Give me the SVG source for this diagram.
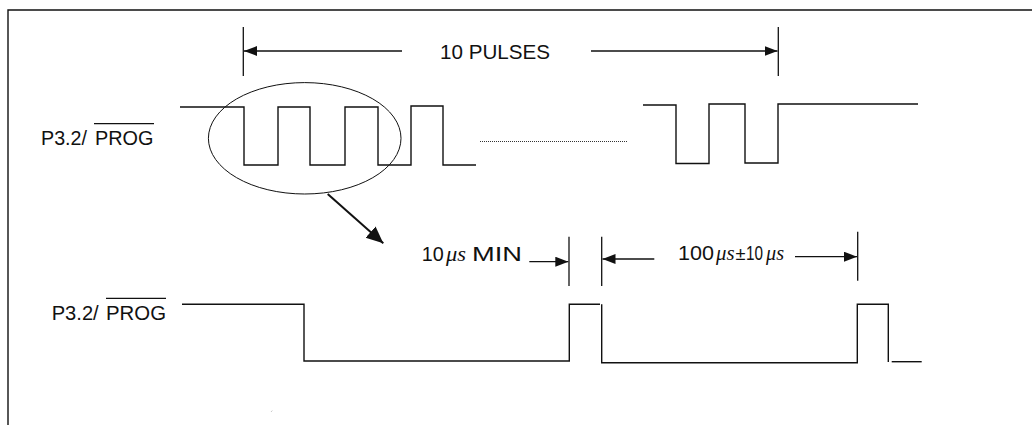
<svg xmlns="http://www.w3.org/2000/svg" width="1032" height="425" viewBox="0 0 1032 425">
<style>
.w{fill:none;stroke:#111;stroke-width:1.4;stroke-linejoin:miter}
.d{fill:none;stroke:#111;stroke-width:1.3}
.t{font-family:"Liberation Sans",Arial,sans-serif;fill:#111}
.u{font-family:"Liberation Serif","Times New Roman",serif;font-style:italic;fill:#111}
</style>
<defs>
<marker id="ah" markerUnits="userSpaceOnUse" markerWidth="14" markerHeight="11" refX="13" refY="5" orient="auto">
<path d="M0,0 L13,5 L0,10 z" fill="#111"/>
</marker>
<marker id="ah2" markerUnits="userSpaceOnUse" markerWidth="18" markerHeight="16" refX="17" refY="7.5" orient="auto">
<path d="M0,0 L17,7.5 L0,15 z" fill="#111"/>
</marker>
</defs>
<path d="M8,425 V10 H1032" fill="none" stroke="#111" stroke-width="1.4"/>

<g id="label-top">
<text class="t" x="41" y="144.5" font-size="19.5" textLength="46" lengthAdjust="spacingAndGlyphs">P3.2/</text>
<text class="t" x="95" y="144.5" font-size="19.5" textLength="58.5" lengthAdjust="spacingAndGlyphs">PROG</text>
<line x1="94" y1="123.7" x2="154" y2="123.7" stroke="#111" stroke-width="1.2"/>
</g>

<g id="label-bottom">
<text class="t" x="51.7" y="319.5" font-size="19.5" textLength="47" lengthAdjust="spacingAndGlyphs">P3.2/</text>
<text class="t" x="106" y="319.5" font-size="19.5" textLength="60" lengthAdjust="spacingAndGlyphs">PROG</text>
<line x1="106" y1="298.3" x2="166" y2="298.3" stroke="#111" stroke-width="1.2"/>
</g>

<g id="signal-top">
<path class="w" d="M180,107 H244 V165 H278 V107 H310 V165 H345 V107 H378 V165 H411 V106 H443 V165 H476"/>
<line x1="480" y1="141.5" x2="628" y2="141.5" stroke="#333" stroke-width="1" stroke-dasharray="1,1"/>
<path class="w" d="M643,105 H676 V163.5 H709 V104 H745 V163 H778 V104 H918"/>
</g>

<g id="signal-bottom">
<path class="w" d="M182,304.3 H304 V361 H569.3 V304.3 H600"/>
<path class="w" d="M601.7,304.3 V362.7 H857.3 V304.3 H888.3 V362"/>
<line class="w" x1="891.7" y1="361.7" x2="921.7" y2="361.7"/>
</g>

<g id="zoom-ellipse">
<ellipse cx="304.7" cy="138.3" rx="96.3" ry="55.7" fill="none" stroke="#111" stroke-width="1"/>
</g>

<g id="connectors">
<line x1="243.3" y1="27" x2="243.3" y2="76" class="d"/>
<line x1="778.3" y1="27" x2="778.3" y2="76" class="d"/>
<line x1="402" y1="51" x2="244" y2="51" class="d" marker-end="url(#ah)"/>
<line x1="591" y1="51" x2="777.5" y2="51" class="d" marker-end="url(#ah)"/>
<line x1="327.7" y1="194" x2="383.3" y2="243.3" stroke="#111" stroke-width="2" marker-end="url(#ah2)"/>
<line x1="569" y1="236.7" x2="569" y2="286" class="d"/>
<line x1="601.7" y1="236.7" x2="601.7" y2="286" class="d"/>
<line x1="857.7" y1="231.7" x2="857.7" y2="280.7" class="d"/>
<line x1="529.3" y1="261.7" x2="568.3" y2="261.7" class="d" marker-end="url(#ah)"/>
<line x1="654.3" y1="259" x2="602.5" y2="259" class="d" marker-end="url(#ah)"/>
<line x1="795" y1="256.7" x2="857" y2="256.7" class="d" marker-end="url(#ah)"/>
</g>

<g id="label-pulses">
<text class="t" x="440" y="59" font-size="21" textLength="110" lengthAdjust="spacingAndGlyphs">10 PULSES</text>
</g>

<g id="label-min">
<text class="t" x="421.7" y="261" font-size="20" textLength="22" lengthAdjust="spacingAndGlyphs">10</text>
<text class="u" x="446" y="261" font-size="21" textLength="20" lengthAdjust="spacingAndGlyphs">μs</text>
<text class="t" x="472" y="261" font-size="20" textLength="50" lengthAdjust="spacingAndGlyphs">MIN</text>
</g>

<g id="label-period">
<text class="t" x="678" y="259.5" font-size="19.5" textLength="36" lengthAdjust="spacingAndGlyphs">100</text>
<text class="u" x="716" y="259.5" font-size="20" textLength="18.5" lengthAdjust="spacingAndGlyphs">μs</text>
<text class="t" x="735.5" y="259.5" font-size="19" textLength="10" lengthAdjust="spacingAndGlyphs">±</text>
<text class="t" x="746" y="259.5" font-size="19.5" textLength="17" lengthAdjust="spacingAndGlyphs">10</text>
<text class="u" x="766" y="259.5" font-size="20" textLength="18" lengthAdjust="spacingAndGlyphs">μs</text>
</g>

<line x1="271" y1="412" x2="272.3" y2="410.5" stroke="#bbb" stroke-width="0.8"/>
</svg>
